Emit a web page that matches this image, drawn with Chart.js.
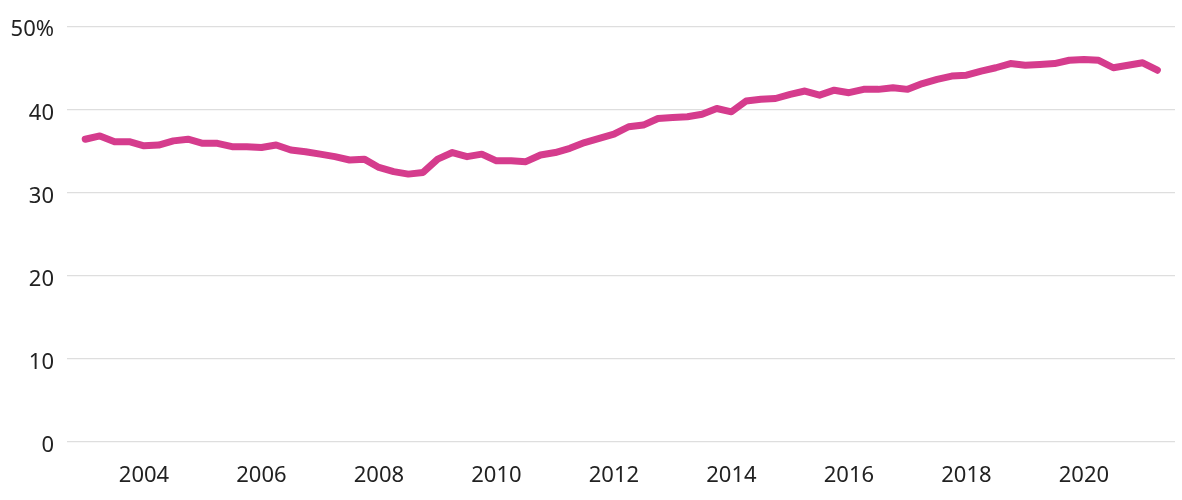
<!DOCTYPE html>
<html>
<head>
<meta charset="utf-8">
<script src="https://cdn.jsdelivr.net/npm/chart.js@4"></script>
<style>
  body { margin: 0; background: #fff; }
  #wrap { width: 1182px; height: 500px; }
</style>
</head>
<body>
<div id="wrap"><canvas id="line-chart1" width="1182" height="500"></canvas></div>
<script>
// quarterly share, 2003 Q1 .. 2021 Q2
var quarters = [];
for (var yr = 2003; yr <= 2021; yr++) {
  for (var q = 1; q <= 4; q++) {
    if (yr === 2021 && q > 2) break;
    quarters.push(yr + ' Q' + q);
  }
}

var share = [
  36.4, 36.8, 36.1, 36.1, 35.6, 35.7, 36.2, 36.4, 35.9, 35.9,
  35.5, 35.5, 35.4, 35.7, 35.1, 34.9, 34.6, 34.3, 33.9, 34.0,
  33.0, 32.5, 32.2, 32.4, 34.0, 34.8, 34.3, 34.6, 33.8, 33.8,
  33.7, 34.5, 34.8, 35.3, 36.0, 36.5, 37.0, 37.9, 38.1, 38.9,
  39.0, 39.1, 39.4, 40.1, 39.7, 41.0, 41.2, 41.3, 41.8, 42.2,
  41.7, 42.3, 42.0, 42.4, 42.4, 42.6, 42.4, 43.1, 43.6, 44.0,
  44.1, 44.6, 45.0, 45.5, 45.3, 45.4, 45.5, 45.9, 46.0, 45.9,
  45.0, 45.3, 45.6, 44.7
];

var yearTicks = [2004, 2006, 2008, 2010, 2012, 2014, 2016, 2018, 2020];
var valueTicks = [0, 10, 20, 30, 40, 50];

function quarterToYear(label) {
  var parts = label.split(' Q');
  return Number(parts[0]) + (Number(parts[1]) - 1) / 4;
}

var points = quarters.map(function (lab, i) {
  return { x: quarterToYear(lab), y: share[i] };
});

var tickFont = { family: "'Noto Sans', sans-serif", size: 22 };

new Chart(document.getElementById("line-chart1"), {
  type: 'line',
  data: {
    datasets: [{
      data: points,
      borderColor: "#d53c8d",
      borderWidth: 7,
      borderJoinStyle: 'round',
      borderCapStyle: 'round',
      pointRadius: 0,
      tension: 0,
      fill: false
    }]
  },
  options: {
    responsive: false,
    animation: false,
    devicePixelRatio: 1,
    layout: { padding: { top: 24, right: 7, bottom: 0, left: 0 } },
    plugins: {
      legend: { display: false },
      tooltip: { enabled: false },
      title: { display: false }
    },
    scales: {
      x: {
        type: 'linear',
        min: 2002.69,
        max: 2021.55,
        grid: { display: false },
        border: { display: false },
        afterBuildTicks: function (scale) {
          scale.ticks = yearTicks.map(function (v) { return { value: v }; });
        },
        afterFit: function (scale) { scale.height = 58.3; },
        ticks: {
          autoSkip: false,
          maxRotation: 0,
          padding: 13,
          color: '#222',
          font: tickFont,
          callback: function (v) { return String(v); }
        }
      },
      y: {
        min: 0,
        max: 50,
        grid: { color: '#dedede', lineWidth: 1.3, drawTicks: false },
        border: { display: false },
        afterBuildTicks: function (scale) {
          scale.ticks = valueTicks.map(function (v) { return { value: v }; });
        },
        afterFit: function (scale) { scale.width = 67; },
        ticks: {
          padding: 13,
          labelOffset: 4,
          color: '#222',
          font: tickFont,
          callback: function (v) { return v === 50 ? '50%' : v; }
        }
      }
    }
  }
});
</script>
</body>
</html>
